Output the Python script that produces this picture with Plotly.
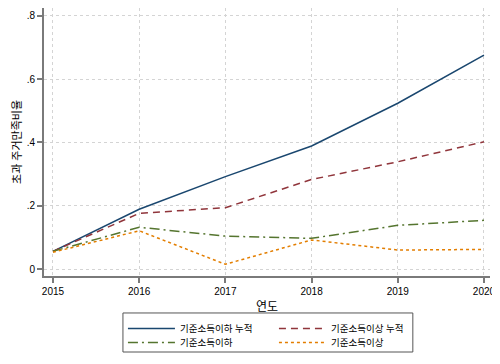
import plotly.graph_objects as go

years = [2015, 2016, 2017, 2018, 2019, 2020]
below_cum = [0.056, 0.189, 0.292, 0.389, 0.524, 0.676]
above_cum = [0.056, 0.176, 0.194, 0.283, 0.339, 0.402]
below = [0.056, 0.132, 0.104, 0.097, 0.138, 0.154]
above = [0.053, 0.121, 0.015, 0.092, 0.060, 0.062]

names = ["기준소득이하 누적", "기준소득이상 누적", "기준소득이하", "기준소득이상"]
ytickvals = [0, 0.2, 0.4, 0.6, 0.8]
yticktext = ["0", ".2", ".4", ".6", ".8"]

FONT = "Liberation Sans, Arial, Noto Sans CJK KR, sans-serif"

fig = go.Figure()
series = [
    (below_cum, "#1a476f", "solid", "legend"),
    (above_cum, "#90353b", "7px,5px", "legend"),
    (below, "#55752f", "10px,4px,2px,4px", "legend2"),
    (above, "#e37e00", "3px,3px", "legend2"),
]
for (vals, color, dash, leg), name in zip(series, names):
    fig.add_trace(go.Scatter(x=years, y=vals, mode="lines", name=name, legend=leg,
                             line=dict(color=color, width=1.5, dash=dash)))

axis_common = dict(
    showline=True, linecolor="#7a7a7a", linewidth=2,
    ticks="outside", ticklen=5, tickcolor="#7a7a7a", tickwidth=1.5,
    showgrid=True, gridcolor="#d4d4d4", griddash="dot", gridwidth=1,
    zeroline=False, tickfont=dict(size=10, color="#000"),
)

legend_common = dict(orientation="h", x=0.177, xanchor="left", yanchor="top",
                     entrywidth=89, itemwidth=47, borderwidth=0,
                     font=dict(size=9.5), bgcolor="rgba(0,0,0,0)",
                     traceorder="normal")

# page body has an 8px default margin, so the figure is 8px smaller
fig.update_layout(
    width=492, height=356,
    margin=dict(l=36, r=10, t=0, b=88),
    paper_bgcolor="white", plot_bgcolor="white",
    font=dict(family=FONT, color="#000"),
    xaxis=dict(range=[2014.896, 2020.07], tickvals=years,
               title=dict(text="연도", font=dict(size=12), standoff=7),
               **axis_common),
    yaxis=dict(range=[-0.022, 0.825], tickvals=ytickvals, ticktext=yticktext,
               title=dict(text="초과 주거만족비율", font=dict(size=11), standoff=3),
               **axis_common),
    legend=dict(y=-0.142, **legend_common),
    legend2=dict(y=-0.194, **legend_common),
    shapes=[dict(type="rect", xref="paper", yref="paper",
                 x0=0.177, x1=0.827, y0=-0.2836, y1=-0.138,
                 line=dict(color="#555", width=1), fillcolor="rgba(0,0,0,0)")],
)

fig.write_html("out.html")
